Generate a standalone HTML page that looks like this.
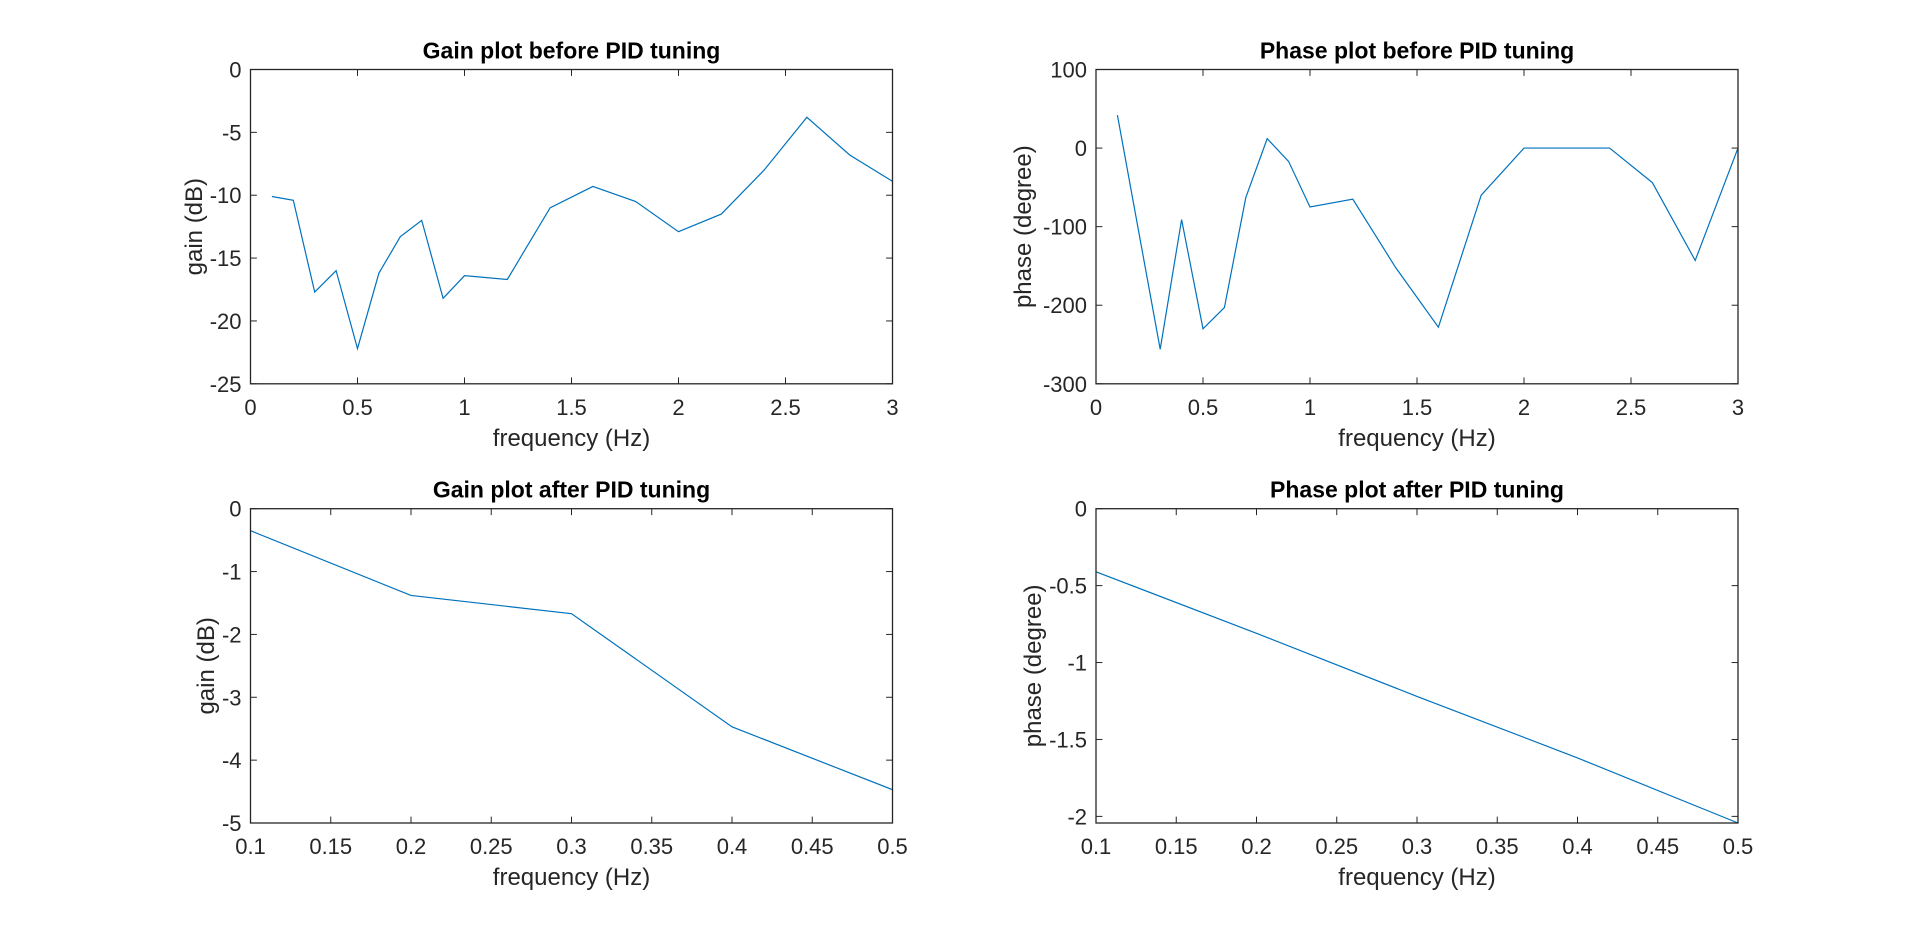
<!DOCTYPE html>
<html><head><meta charset="utf-8"><style>
html,body{margin:0;padding:0;background:#fff;}
svg{display:block;font-family:"Liberation Sans",Arial,sans-serif;}
</style></head><body>
<svg id="fig" width="1920" height="926" xmlns="http://www.w3.org/2000/svg"></svg>
<script>
const gainBeforeX=[0.1,0.2,0.3,0.4,0.5,0.6,0.7,0.8,0.9,1.0,1.2,1.4,1.6,1.8,2.0,2.2,2.4,2.6,2.8,3.0];
const gainBeforeY=[-10.1,-10.4,-17.7,-16,-22.2,-16.2,-13.3,-12,-18.2,-16.4,-16.7,-11,-9.3,-10.5,-12.9,-11.5,-8,-3.8,-6.8,-8.9];
const phaseBeforeX=[0.1,0.3,0.4,0.5,0.6,0.7,0.8,0.9,1.0,1.2,1.4,1.6,1.8,2.0,2.2,2.4,2.6,2.8,3.0];
const phaseBeforeY=[42,-256,-91,-230,-203,-63,12,-17,-75,-65,-152,-228,-60,0,0,0,-44,-143,0];
const gainAfterX=[0.1,0.2,0.3,0.4,0.5];
const gainAfterY=[-0.35,-1.38,-1.67,-3.47,-4.47];
const phaseAfterX=[0.1,0.2,0.3,0.4,0.5];
const phaseAfterY=[-0.41,-0.81,-1.22,-1.62,-2.043];
const xTicksBefore=[0,0.5,1,1.5,2,2.5,3];
const xTicksAfter=[0.1,0.15,0.2,0.25,0.3,0.35,0.4,0.45,0.5];
const yTicksGB=[0,-5,-10,-15,-20,-25];
const yTicksPB=[100,0,-100,-200,-300];
const yTicksGA=[0,-1,-2,-3,-4,-5];
const yTicksPA=[0,-0.5,-1,-1.5,-2];

const svg=document.getElementById('fig');
const NS='http://www.w3.org/2000/svg';
function mk(tag,attrs,parent){const e=document.createElementNS(NS,tag);for(const k in attrs)e.setAttribute(k,attrs[k]);(parent||svg).appendChild(e);return e;}

function plot(o){
  const g=mk('g',{});
  
  
  const L=o.l,T=o.t,W=o.w,H=o.h;
  const sx=v=>L+(v-o.xmin)/(o.xmax-o.xmin)*W;
  const sy=v=>T+(o.ymax-v)/(o.ymax-o.ymin)*H;
  const tl=6.4;
  o.xt.forEach(v=>{
    const x=sx(v);
    mk('line',{x1:x,y1:T+H,x2:x,y2:T+H-tl,stroke:'#262626','stroke-width':1},g);
    mk('line',{x1:x,y1:T,x2:x,y2:T+tl,stroke:'#262626','stroke-width':1},g);
    const t=mk('text',{x:x,y:T+H+31,'text-anchor':'middle','font-size':22,fill:'#262626'},g);
    t.textContent=String(v);
    
    
  });
  o.yt.forEach(v=>{
    const y=sy(v);
    mk('line',{x1:L,y1:y,x2:L+tl,y2:y,stroke:'#262626','stroke-width':1},g);
    mk('line',{x1:L+W,y1:y,x2:L+W-tl,y2:y,stroke:'#262626','stroke-width':1},g);
    const t=mk('text',{x:L-9,y:y+8,'text-anchor':'end','font-size':22,fill:'#262626'},g);
    t.textContent=String(v);
    
    
  });
  const pts=o.x.map((v,i)=>sx(v).toFixed(2)+','+sy(o.y[i]).toFixed(2)).join(' ');
  const pl=mk('polyline',{points:pts,fill:'none',stroke:'#0072BD','stroke-width':1.2},g);
  
  
  const r=mk('rect',{x:L,y:T,width:W,height:H,fill:'none',stroke:'#262626','stroke-width':1.3},g);
  
  
  const ti=mk('text',{x:L+W/2,y:T-11,'text-anchor':'middle','font-size':23,'font-weight':'bold',fill:'#000'},g);
  ti.textContent=o.title;
  
  
  const xl=mk('text',{x:L+W/2,y:T+H+62,'text-anchor':'middle','font-size':24,fill:'#262626'},g);
  xl.textContent='frequency (Hz)';
  
  
  const yx=o.ylx, yy=T+H/2;
  const yl=mk('text',{x:yx,y:yy,'text-anchor':'middle','font-size':24,fill:'#262626',transform:'rotate(-90 '+yx+' '+yy+')'},g);
  yl.textContent=o.ylabel;
  
  
}
const LX=250.5,RX=1096,W=642,TY=69.5,BY=508.7,H=314.3;
plot({name:'gain-before-plot',l:LX,t:TY,w:W,h:H,xmin:0,xmax:3,ymin:-25,ymax:0,xt:xTicksBefore,yt:yTicksGB,x:gainBeforeX,y:gainBeforeY,title:'Gain plot before PID tuning',ylabel:'gain (dB)',ylx:202});
plot({name:'phase-before-plot',l:RX,t:TY,w:W,h:H,xmin:0,xmax:3,ymin:-300,ymax:100,xt:xTicksBefore,yt:yTicksPB,x:phaseBeforeX,y:phaseBeforeY,title:'Phase plot before PID tuning',ylabel:'phase (degree)',ylx:1031});
plot({name:'gain-after-plot',l:LX,t:BY,w:W,h:H,xmin:0.1,xmax:0.5,ymin:-5,ymax:0,xt:xTicksAfter,yt:yTicksGA,x:gainAfterX,y:gainAfterY,title:'Gain plot after PID tuning',ylabel:'gain (dB)',ylx:214});
plot({name:'phase-after-plot',l:RX,t:BY,w:W,h:H,xmin:0.1,xmax:0.5,ymin:-2.043,ymax:0,xt:xTicksAfter,yt:yTicksPA,x:phaseAfterX,y:phaseAfterY,title:'Phase plot after PID tuning',ylabel:'phase (degree)',ylx:1041});
</script>
</body></html>
